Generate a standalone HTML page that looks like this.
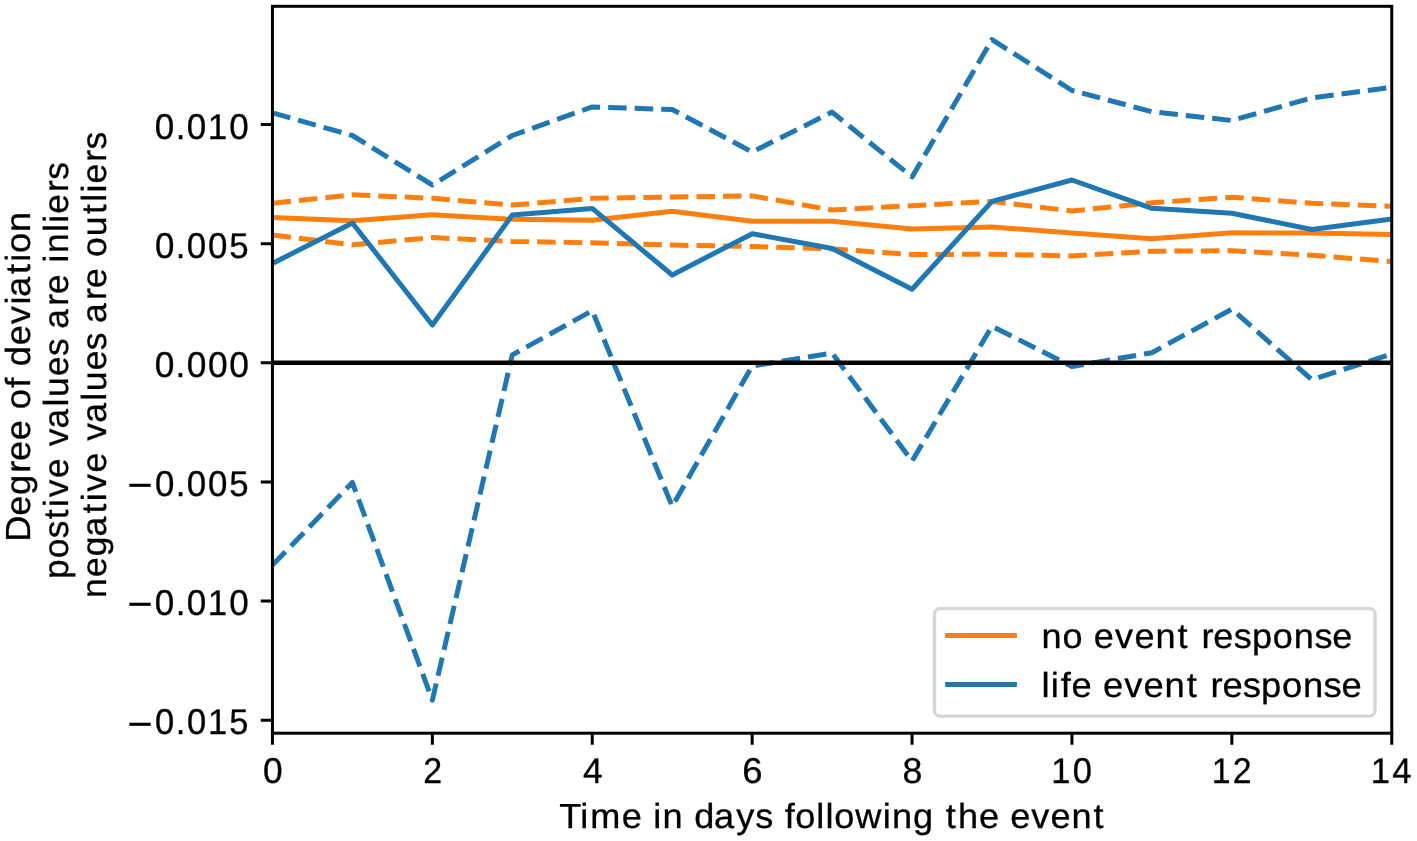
<!DOCTYPE html>
<html lang="en"><head><meta charset="utf-8"><title>Degree of deviation</title>
<style>html,body{margin:0;padding:0;background:#fff}body{width:1417px;height:841px;overflow:hidden}svg{display:block;will-change:transform}text{font-family:"Liberation Sans",sans-serif;fill:#000;font-kerning:none;font-variant-ligatures:none;white-space:pre;text-rendering:geometricPrecision;stroke:#000;stroke-linejoin:round}g.t{filter:grayscale(1)}g.d text{stroke-width:0.3px}g.l text{stroke-width:0.3px}</style></head><body>
<svg width="1417" height="841" viewBox="0 0 1417 841">
<rect width="1417" height="841" fill="#fff"/>
<defs><clipPath id="ax"><rect x="272.45" y="6.3" width="1119.3" height="726.9"/></clipPath></defs>
<g clip-path="url(#ax)" fill="none" stroke-width="5" stroke-linejoin="round">
<path d="M272.45 217.6 L352.4 220.7 L432.35 214.8 L512.3 219.3 L592.25 220.3 L672.2 211.3 L752.15 221.2 L832.1 221.2 L912.05 228.9 L992 227 L1071.95 232.9 L1151.9 238.8 L1231.85 232.7 L1311.8 233.1 L1391.75 234.6" stroke="#ff7f0e"/>
<path d="M272.45 203.2 L352.4 194.8 L432.35 198.3 L512.3 205.1 L592.25 198.3 L672.2 197 L752.15 195.9 L832.1 210 L912.05 205.7 L992 201.4 L1071.95 211 L1151.9 202.8 L1231.85 197.2 L1311.8 203.3 L1391.75 206.3" stroke="#ff7f0e" stroke-dasharray="18.55 8.02"/>
<path d="M272.45 235.1 L352.4 244.8 L432.35 237.6 L512.3 241.4 L592.25 242.8 L672.2 245.1 L752.15 246.5 L832.1 248.9 L912.05 254.6 L992 254.2 L1071.95 255.9 L1151.9 251.2 L1231.85 250.8 L1311.8 255.2 L1391.75 261.6" stroke="#ff7f0e" stroke-dasharray="18.55 8.02"/>
<path d="M272.45 263.4 L352.4 223 L432.35 325 L512.3 215 L592.25 208.4 L672.2 275 L752.15 233.7 L832.1 248.5 L912.05 289.2 L992 201.4 L1071.95 180 L1151.9 208.3 L1231.85 213.2 L1311.8 229.5 L1391.75 219" stroke="#1f77b4"/>
<path d="M272.45 112.8 L352.4 135.5 L432.35 185 L512.3 135.5 L592.25 106.9 L672.2 109.5 L752.15 152 L832.1 112.1 L912.05 176.9 L992 39.6 L1071.95 90.5 L1151.9 111.7 L1231.85 120.5 L1311.8 97.9 L1391.75 87.3" stroke="#1f77b4" stroke-dasharray="18.55 8.02"/>
<path d="M272.45 565.1 L352.4 482.5 L432.35 700.2 L512.3 354.9 L592.25 310.7 L672.2 506.4 L752.15 366 L832.1 353.1 L912.05 461.1 L992 326.2 L1071.95 366.5 L1151.9 352.7 L1231.85 309.1 L1311.8 379.7 L1391.75 354" stroke="#1f77b4" stroke-dasharray="18.55 8.02"/>
<path d="M262.45 362.8 H1401.75" stroke="#000" stroke-width="4.6"/>
</g>
<path d="M272.45 733.2 v11.67 M432.35 733.2 v11.67 M592.25 733.2 v11.67 M752.15 733.2 v11.67 M912.05 733.2 v11.67 M1071.95 733.2 v11.67 M1231.85 733.2 v11.67 M1391.75 733.2 v11.67 M272.45 124.5 h-11.67 M272.45 243.65 h-11.67 M272.45 362.8 h-11.67 M272.45 481.95 h-11.67 M272.45 601.1 h-11.67 M272.45 720.25 h-11.67" stroke="#000" stroke-width="3" fill="none"/>
<rect x="272.45" y="6.3" width="1119.3" height="726.9" fill="none" stroke="#000" stroke-width="3"/>
<g class="t d">
<text transform="translate(153.94,138.6) scale(0.9765,1.0000)" font-size="35.8" x="0.93 22.25 33.62 55.23 77.21" y="0">0.010</text>
<text transform="translate(153.94,257.75) scale(0.9731,1.0000)" font-size="35.8" x="0.97 22.34 33.77 55.64 77.38" y="0">0.005</text>
<text transform="translate(153.94,376.9) scale(0.9862,1.0000)" font-size="35.8" x="0.83 21.98 33.19 54.77 76.35" y="0">0.000</text>
<g><text transform="translate(127.15,500.26) scale(1.2211,1.2343)" font-size="35.8" style="stroke-width:0">−</text><text transform="translate(153.94,496.05) scale(0.9731,1.0000)" font-size="35.8" x="0.97 22.34 33.77 55.64 77.38" y="0">0.005</text></g>
<g><text transform="translate(127.15,619.41) scale(1.2211,1.2343)" font-size="35.8" style="stroke-width:0">−</text><text transform="translate(153.94,615.2) scale(0.9765,1.0000)" font-size="35.8" x="0.93 22.25 33.62 55.23 77.21" y="0">0.010</text></g>
<g><text transform="translate(127.15,738.56) scale(1.2211,1.2343)" font-size="35.8" style="stroke-width:0">−</text><text transform="translate(153.94,734.35) scale(0.9630,1.0000)" font-size="35.8" x="1.09 22.63 34.23 56.15 78.29" y="0">0.015</text></g>
<text transform="translate(262.22,783) scale(0.9849,1.0000)" font-size="35.8" x="0.84" y="0">0</text>
<text transform="translate(422.56,783) scale(0.9494,1.0000)" font-size="35.8" x="0.78" y="0">2</text>
<text transform="translate(582.13,783) scale(0.9851,1.0000)" font-size="35.8" x="0.84" y="0">4</text>
<text transform="translate(741.79,783) scale(1.0194,1.0000)" font-size="35.8" x="0.47" y="0">6</text>
<text transform="translate(901.82,783) scale(0.9956,1.0000)" font-size="35.8" x="0.72" y="0">8</text>
<text transform="translate(1050.34,783) scale(0.9640,1.0000)" font-size="35.8" x="0.9 23.15" y="0">10</text>
<text transform="translate(1210.8,783) scale(0.9452,1.0000)" font-size="35.8" x="1.12 23.34" y="0">12</text>
<text transform="translate(1369.97,783) scale(0.9646,1.0000)" font-size="35.8" x="0.89 23.13" y="0">14</text>
</g>
<g class="t l">
<text transform="translate(560.14,828) scale(1.0387,1.0000)" font-size="34.8" x="-0.78 19.31 28.91 59.3 78.81 89.68 98.6 118.41 129.01 148.05 169.65 187.8 204.66 216.14 226.42 246.55 255.5 264.02 284.13 310.51 319.43 339.6 359.68 371.31 383.09 403.25 422.77 433.3 453.65 472.18 492.29 513.5" y="0">Time in days following the event</text>
<text transform="translate(29.8,541.58) rotate(-90) scale(1.0434,1.0000)" font-size="34.8" x="-0.19 24.89 44.64 66.01 77.33 97.01 116.45 126.75 147.4 157.45 167.94 188.18 208.4 227.16 234.35 256.41 268.19 276.62 296.6" y="0">Degree of deviation</text>
<text transform="translate(68,579.94) rotate(-90) scale(1.0133,1.0000)" font-size="34.8" x="1.01 21.38 41.28 59.9 72.03 81.53 100.54 120.3 131.86 149.52 171.28 180.44 201.2 221.09 238.16 247.84 270.5 282.27 302.03 313.26 322.55 343.34 352.53 361.5 382.89 394.97" y="0">postive values are inliers</text>
<text transform="translate(106.3,598.74) rotate(-90) scale(1.0194,1.0000)" font-size="34.8" x="0.79 21.3 41.57 61.01 83.51 95.59 105.02 123.93 143.65 155.1 172.66 194.35 203.43 224.08 243.89 260.92 270.49 293.06 304.75 324.48 335.29 355.67 377.34 389.4 398.55 407.44 428.74 440.75" y="0">negative values are outliers</text>
</g>
<rect x="934.5" y="608.7" width="440.5" height="107.4" rx="5.5" ry="5.5" fill="#fff" fill-opacity="0.8" stroke="#cccccc" stroke-opacity="0.8" stroke-width="3.33"/>
<path d="M945.2 635.5 H1016.9" stroke="#ff7f0e" stroke-width="5"/>
<path d="M945.2 684.5 H1016.9" stroke="#1f77b4" stroke-width="5"/>
<g class="t l">
<text transform="translate(1040.96,648) scale(1.0374,1.0000)" font-size="34.8" x="0.61 20.73 40.37 50.97 71.45 90.09 110.33 131.66 142.97 154.7 166.19 185.75 203.45 223.47 243.71 263.57 280.83" y="0">no event response</text>
<text transform="translate(1040.85,696.7) scale(1.0464,1.0000)" font-size="34.8" x="0.57 9.52 19.04 29.38 48.93 59.36 79.66 98.14 118.2 139.39 150.64 162.21 173.58 192.98 210.51 230.36 250.43 270.13 287.23" y="0">life event response</text>
</g>
</svg></body></html>
